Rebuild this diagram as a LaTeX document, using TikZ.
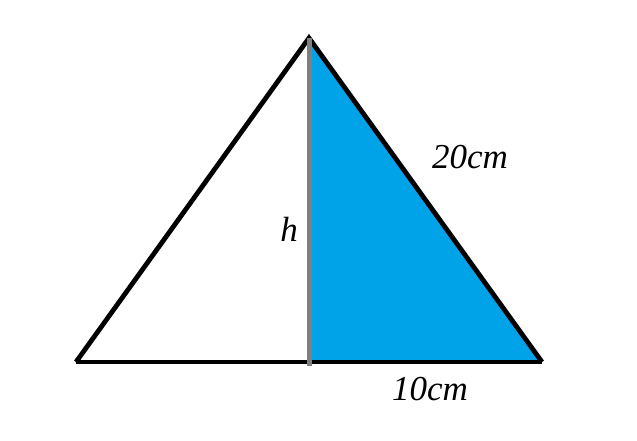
\documentclass[tikz,border=0pt]{standalone}
\usepackage{fontspec}
\setmainfont{Liberation Serif}
\begin{document}
\begin{tikzpicture}[x=1pt,y=-1pt,
  lbl/.style={font=\fontsize{35}{40}\selectfont\itshape, inner sep=0pt},
  edge/.style={line width=4.8pt, black, line join=miter}]
\useasboundingbox (0,0) rectangle (637,440);
\definecolor{paintblue}{HTML}{00A2E8}
\coordinate (A) at (309,38);
\coordinate (L) at (76,362);
\coordinate (R) at (542,362);
\coordinate (F) at (309,362);
\coordinate (Fb) at (309,366);
\fill[paintblue] (A) -- (F) -- (R) -- cycle;
\draw[edge] (L) -- (A) -- (R);
\draw[edge] (L) -- (R);
\draw[line width=5pt, color={rgb,255:red,128;green,128;blue,128}] (A) -- (Fb);
\node[lbl] (t20) at (470,157) {20cm};
\node[lbl] (th) at (289,229) {h};
\node[lbl] (t10) at (430,389) {10cm};
\end{tikzpicture}
\end{document}
